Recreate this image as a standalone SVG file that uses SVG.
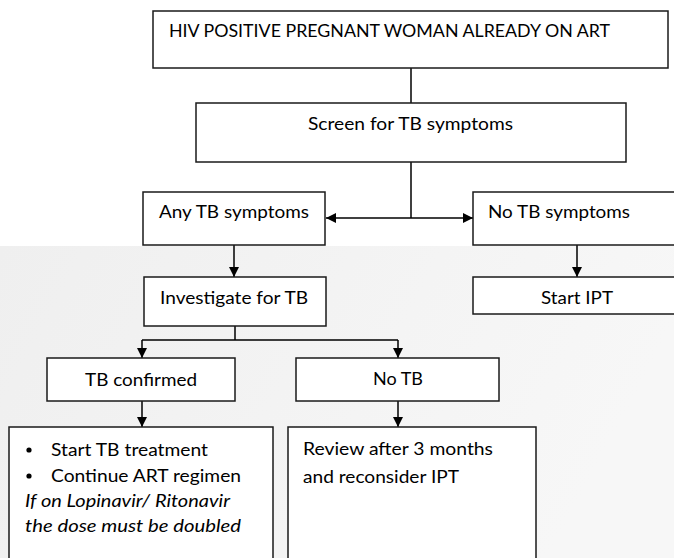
<svg xmlns="http://www.w3.org/2000/svg" width="674" height="558" viewBox="0 0 674 558">
<defs>
<linearGradient id="bg" x1="0" y1="0" x2="1" y2="0.25">
<stop offset="0" stop-color="#efefef"/>
<stop offset="1" stop-color="#f7f7f7"/>
</linearGradient>
<marker id="ah" viewBox="0 0 10 10" refX="10" refY="5" markerWidth="10" markerHeight="10" markerUnits="userSpaceOnUse" orient="auto">
<path d="M0,0 L10,5 L0,10 Z" fill="#000"/>
</marker>
<style>
.box{fill:#fff;stroke:#1a1a1a;stroke-width:1.5}
.t{font-family:Lato,"Open Sans","Liberation Sans",sans-serif;font-size:17px;fill:#000}
.i{font-style:italic}
.c{stroke:#000;stroke-width:1.5;fill:none}
.a{marker-end:url(#ah)}
</style>
</defs>
<rect x="0" y="0" width="674" height="558" fill="#fff"/>
<rect x="0" y="246" width="674" height="312" fill="url(#bg)"/>

<g id="connectors">
<path class="c" d="M411,68 V103"/>
<path class="c" d="M411,162 V218"/>
<path class="c a" d="M411,218 H326"/>
<path class="c a" d="M411,218 H473"/>
<path class="c a" d="M234,245 V277"/>
<path class="c a" d="M577,245 V277"/>
<path class="c" d="M235,326 V340 M142,340 H398"/>
<path class="c a" d="M142,340 V358"/>
<path class="c a" d="M398,340 V358"/>
<path class="c a" d="M142,401 V427"/>
<path class="c a" d="M398,401 V427"/>
</g>

<g id="n-hiv">
<rect class="box" x="153" y="11" width="515" height="57"/>
<text class="t" x="169" y="37" textLength="441" lengthAdjust="spacingAndGlyphs">HIV POSITIVE PREGNANT WOMAN ALREADY ON ART</text>
</g>
<g id="n-screen">
<rect class="box" x="196" y="103" width="430" height="59"/>
<text class="t" x="308" y="130" textLength="205" lengthAdjust="spacingAndGlyphs">Screen for TB symptoms</text>
</g>
<g id="n-any">
<rect class="box" x="143" y="192" width="182" height="53"/>
<text class="t" x="159" y="218" textLength="150" lengthAdjust="spacingAndGlyphs">Any TB symptoms</text>
</g>
<g id="n-notb-sym">
<rect class="box" x="473" y="192" width="210" height="53"/>
<text class="t" x="488" y="218" textLength="142" lengthAdjust="spacingAndGlyphs">No TB symptoms</text>
</g>
<g id="n-investigate">
<rect class="box" x="144" y="277" width="182" height="49"/>
<text class="t" x="160" y="304" textLength="148" lengthAdjust="spacingAndGlyphs">Investigate for TB</text>
</g>
<g id="n-ipt">
<rect class="box" x="473" y="277" width="210" height="37"/>
<text class="t" x="541" y="304" textLength="72" lengthAdjust="spacingAndGlyphs">Start IPT</text>
</g>
<g id="n-confirmed">
<rect class="box" x="47" y="358" width="188" height="43"/>
<text class="t" x="85" y="386" textLength="112" lengthAdjust="spacingAndGlyphs">TB confirmed</text>
</g>
<g id="n-notb">
<rect class="box" x="296" y="358" width="203" height="43"/>
<text class="t" x="373" y="385" textLength="50" lengthAdjust="spacingAndGlyphs">No TB</text>
</g>
<g id="n-treat">
<rect class="box" x="9" y="427" width="264" height="140"/>
<circle cx="29" cy="450" r="2.6" fill="#000"/>
<circle cx="29" cy="476" r="2.6" fill="#000"/>
<text class="t" x="51" y="456" textLength="157" lengthAdjust="spacingAndGlyphs">Start TB treatment</text>
<text class="t" x="51" y="482" textLength="190" lengthAdjust="spacingAndGlyphs">Continue ART regimen</text>
<text class="t i" x="25" y="507" textLength="205" lengthAdjust="spacingAndGlyphs">If on Lopinavir/ Ritonavir</text>
<text class="t i" x="25" y="532" textLength="216" lengthAdjust="spacingAndGlyphs">the dose must be doubled</text>
</g>
<g id="n-review">
<rect class="box" x="288" y="427" width="248" height="140"/>
<text class="t" x="303" y="455" textLength="190" lengthAdjust="spacingAndGlyphs">Review after 3 months</text>
<text class="t" x="303" y="483" textLength="156" lengthAdjust="spacingAndGlyphs">and reconsider IPT</text>
</g>
</svg>
